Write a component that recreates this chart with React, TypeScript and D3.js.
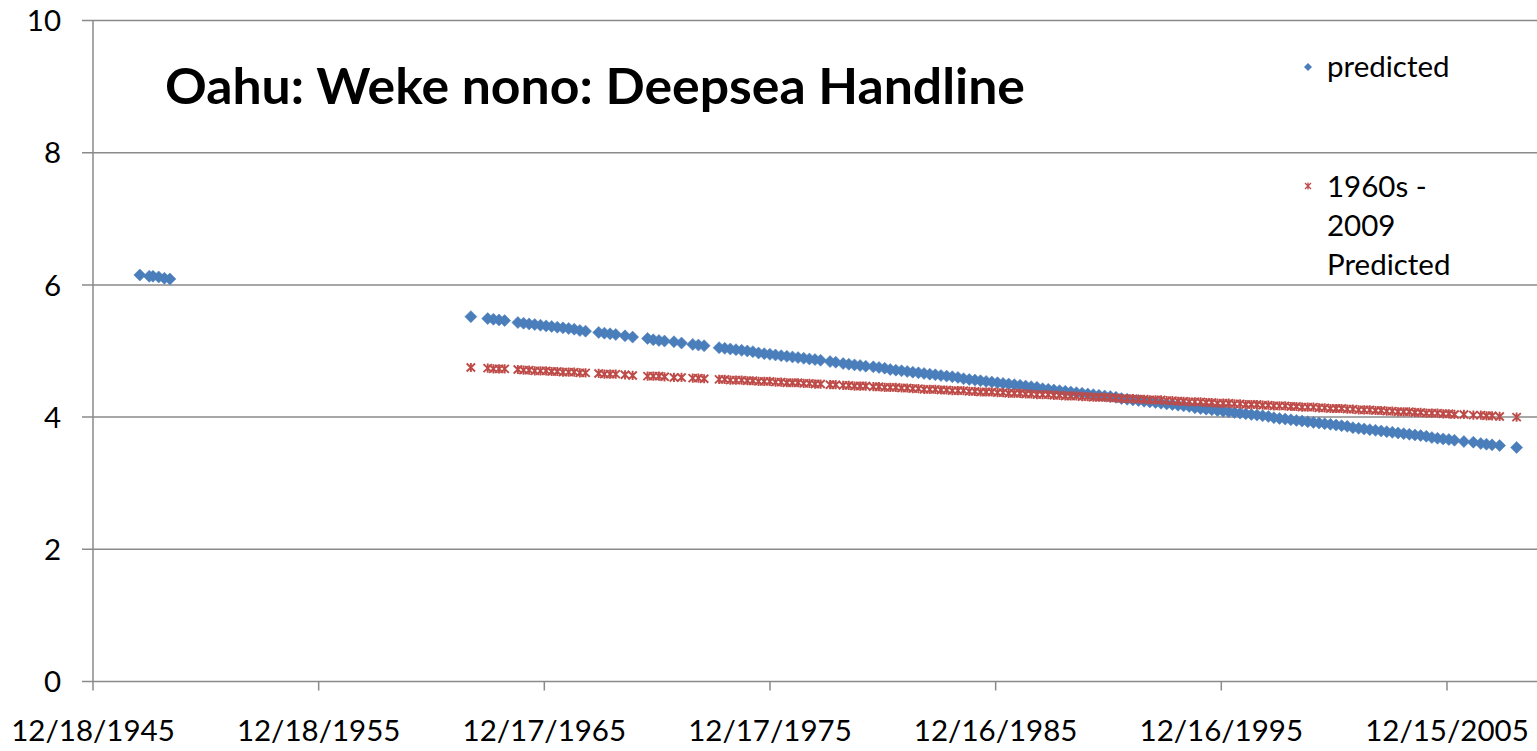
import React from "react";
import * as d3 from "d3";

const TITLE = "Oahu: Weke nono: Deepsea Handline";
const X_TICK_LABELS = ["12/18/1945", "12/18/1955", "12/17/1965", "12/17/1975", "12/16/1985", "12/16/1995", "12/15/2005"];
const X_AXIS_START = "12/18/1945";
const X_AXIS_END = "12/11/2009";
const Y_TICKS = [0, 2, 4, 6, 8, 10];
const SERIES_NAMES = ["predicted", "1960s -\n2009\nPredicted"];

const DATES = [
  "1948-01", "1948-06", "1948-08", "1948-11", "1949-02", "1949-05",
  "1962-09", "1963-06", "1963-09", "1963-12", "1964-03",
  "1964-10", "1965-01", "1965-04", "1965-07", "1965-10", "1966-01", "1966-04", "1966-07", "1966-10", "1967-01", "1967-04", "1967-07", "1967-10",
  "1968-05", "1968-08", "1968-11", "1969-02", "1969-07", "1969-11", "1970-07", "1970-10", "1971-01", "1971-04",
  "1971-09", "1972-01", "1972-07", "1972-10", "1973-01", "1973-09", "1973-12", "1974-03", "1974-06", "1974-09", "1974-12", "1975-03",
  "1975-06", "1975-09", "1975-12", "1976-03", "1976-06", "1976-09", "1976-12", "1977-03", "1977-06", "1977-09", "1977-12", "1978-03",
  "1978-08", "1978-11", "1979-03", "1979-06", "1979-09", "1979-12", "1980-03", "1980-07", "1980-10", "1981-01", "1981-04",
  "1981-07", "1981-10", "1982-01", "1982-04", "1982-07", "1982-10", "1983-01", "1983-04",
  "1983-07", "1983-10", "1984-01", "1984-04", "1984-07", "1984-10", "1985-01", "1985-04", "1985-07", "1985-10", "1986-01", "1986-04",
  "1986-07", "1986-10", "1987-01", "1987-04", "1987-07", "1987-10", "1988-01", "1988-04", "1988-07", "1988-10", "1989-01", "1989-04", "1989-07", "1989-10", "1990-01", "1990-04",
  "1990-07", "1990-10", "1991-01", "1991-04", "1991-07", "1991-10", "1992-01", "1992-04", "1992-07", "1992-10", "1993-01", "1993-04", "1993-07", "1993-10", "1994-01", "1994-04",
  "1994-07", "1994-10", "1995-01", "1995-04", "1995-07", "1995-10", "1996-01", "1996-04", "1996-07", "1996-10", "1997-01", "1997-04", "1997-07", "1997-10", "1998-01", "1998-04",
  "1998-07", "1998-10", "1999-01", "1999-04", "1999-07", "1999-10", "2000-01", "2000-04", "2000-07", "2000-10", "2001-01", "2001-04", "2001-07", "2001-10", "2002-01", "2002-04",
  "2002-07", "2002-10", "2003-01", "2003-04", "2003-07", "2003-10", "2004-01", "2004-04", "2004-07", "2004-10", "2005-01", "2005-04", "2005-07", "2005-10", "2006-01", "2006-04",
  "2006-09", "2007-02", "2007-06", "2007-09", "2007-12", "2008-04", "2009-01",
];

const PREDICTED = [
  6.15, 6.13, 6.13, 6.12, 6.10, 6.09,
  5.52, 5.49, 5.48, 5.47, 5.46,
  5.43, 5.42, 5.41, 5.40, 5.39, 5.38, 5.37, 5.36, 5.35, 5.34, 5.33, 5.31, 5.30,
  5.28, 5.27, 5.26, 5.25, 5.23, 5.21, 5.19, 5.17, 5.16, 5.15,
  5.14, 5.12, 5.10, 5.09, 5.08, 5.05, 5.04, 5.03, 5.02, 5.01, 5.00, 4.99,
  4.97, 4.96, 4.95, 4.94, 4.93, 4.92, 4.91, 4.90, 4.89, 4.88, 4.87, 4.86,
  4.84, 4.83, 4.81, 4.80, 4.79, 4.78, 4.77, 4.76, 4.75, 4.74, 4.72,
  4.71, 4.70, 4.69, 4.68, 4.67, 4.66, 4.65, 4.64,
  4.63, 4.62, 4.61, 4.60, 4.58, 4.57, 4.56, 4.55, 4.54, 4.53, 4.52, 4.51,
  4.50, 4.49, 4.48, 4.47, 4.46, 4.45, 4.43, 4.42, 4.41, 4.40, 4.39, 4.38, 4.37, 4.36, 4.35, 4.34,
  4.33, 4.32, 4.31, 4.30, 4.28, 4.27, 4.26, 4.25, 4.24, 4.23, 4.22, 4.21, 4.20, 4.19, 4.18, 4.17,
  4.16, 4.14, 4.13, 4.12, 4.11, 4.10, 4.09, 4.08, 4.07, 4.06, 4.05, 4.04, 4.03, 4.02, 4.01, 3.99,
  3.98, 3.97, 3.96, 3.95, 3.94, 3.93, 3.92, 3.91, 3.90, 3.89, 3.88, 3.87, 3.86, 3.84, 3.83, 3.82,
  3.81, 3.80, 3.79, 3.78, 3.77, 3.76, 3.75, 3.74, 3.73, 3.72, 3.71, 3.69, 3.68, 3.67, 3.66, 3.65,
  3.63, 3.62, 3.60, 3.59, 3.58, 3.57, 3.54,
];

const PREDICTED_1960S: (number | null)[] = [
  null, null, null, null, null, null,
  4.75, 4.74, 4.73, 4.73, 4.73,
  4.72, 4.71, 4.71, 4.70, 4.70, 4.70, 4.69, 4.69, 4.68, 4.68, 4.68, 4.67, 4.67,
  4.66, 4.65, 4.65, 4.65, 4.64, 4.63, 4.62, 4.62, 4.62, 4.61,
  4.60, 4.60, 4.59, 4.59, 4.58, 4.57, 4.57, 4.56, 4.56, 4.56, 4.55, 4.55,
  4.54, 4.54, 4.54, 4.53, 4.53, 4.52, 4.52, 4.52, 4.51, 4.51, 4.50, 4.50,
  4.49, 4.49, 4.48, 4.48, 4.47, 4.47, 4.47, 4.46, 4.46, 4.45, 4.45,
  4.45, 4.44, 4.44, 4.43, 4.43, 4.42, 4.42, 4.42,
  4.41, 4.41, 4.40, 4.40, 4.40, 4.39, 4.39, 4.38, 4.38, 4.38, 4.37, 4.37,
  4.36, 4.36, 4.36, 4.35, 4.35, 4.34, 4.34, 4.34, 4.33, 4.33, 4.32, 4.32, 4.32, 4.31, 4.31, 4.30,
  4.30, 4.30, 4.29, 4.29, 4.28, 4.28, 4.28, 4.27, 4.27, 4.26, 4.26, 4.26, 4.25, 4.25, 4.24, 4.24,
  4.23, 4.23, 4.23, 4.22, 4.22, 4.21, 4.21, 4.21, 4.20, 4.20, 4.19, 4.19, 4.19, 4.18, 4.18, 4.17,
  4.17, 4.17, 4.16, 4.16, 4.15, 4.15, 4.15, 4.14, 4.14, 4.13, 4.13, 4.13, 4.12, 4.12, 4.11, 4.11,
  4.11, 4.10, 4.10, 4.09, 4.09, 4.08, 4.08, 4.08, 4.07, 4.07, 4.06, 4.06, 4.06, 4.05, 4.05, 4.04,
  4.04, 4.03, 4.03, 4.02, 4.02, 4.01, 4.00,
];

const BLUE = "#4A7EBB";
const RED = "#BE4B48";
const GRID = "#8A8A8A";
const FONT = "Lato, 'Open Sans', sans-serif";

function diamondPath(r: number) {
  return `M0,${-r}L${r},0L0,${r}L${-r},0Z`;
}
function starPath(w: number, h: number) {
  return `M${-w},${-h}L${w},${h}M${-w},${h}L${w},${-h}M0,${-h - 0.6}L0,${h + 0.6}`;
}

export default function App() {
  const W = 1537;
  const H = 751;
  const left = 93;
  const right = 1537;
  const top = 20.5;
  const bottom = 681.5;

  const parseTick = d3.timeParse("%m/%d/%Y");
  const parseMonth = d3.timeParse("%Y-%m");
  const x = d3
    .scaleTime()
    .domain([parseTick(X_AXIS_START) as Date, parseTick(X_AXIS_END) as Date])
    .range([left, right]);
  const y = d3.scaleLinear().domain([0, 10]).range([bottom, top]);

  const rows = DATES.map((d, i) => ({
    date: d3.timeDay.offset(parseMonth(d) as Date, 14),
    a: PREDICTED[i],
    b: PREDICTED_1960S[i],
  }));

  const legendLines = SERIES_NAMES[1].split("\n");

  return (
    <svg
      width={W}
      height={H}
      style={{ position: "absolute", left: 0, top: 0, background: "#fff" }}
      fontFamily={FONT}
    >
      <rect x={0} y={0} width={W} height={H} fill="#fff" />
      {Y_TICKS.filter((t) => t > 0).map((t) => (
        <line key={"g" + t} x1={left - 11} x2={right} y1={y(t)} y2={y(t)} stroke={GRID} strokeWidth={1.5} />
      ))}
      <line x1={left} x2={left} y1={top} y2={bottom} stroke={GRID} strokeWidth={1.5} />
      <line x1={left - 11} x2={right} y1={y(0)} y2={y(0)} stroke={GRID} strokeWidth={1.6} />
      {Y_TICKS.map((t) => (
        <text key={"yl" + t} x={61} y={y(t)} dy="0.36em" textAnchor="end" fontSize={29.5} fill="#000">
          {t}
        </text>
      ))}
      {X_TICK_LABELS.map((s) => {
        const px = x(parseTick(s) as Date);
        return (
          <g key={s}>
            <line x1={px} x2={px} y1={bottom} y2={bottom + 9} stroke={GRID} strokeWidth={1.5} />
            <text x={px} y={741} textAnchor="middle" fontSize={29.5} fill="#000">
              {s}
            </text>
          </g>
        );
      })}
      <text x={165} y={104} fontSize={49} fontWeight={700} fill="#000" textLength={860} lengthAdjust="spacingAndGlyphs">
        {TITLE}
      </text>
      <g>
        {rows
          .filter((r) => r.a != null)
          .map((r, i) => (
            <path
              key={"a" + i}
              d={diamondPath(6)}
              transform={`translate(${x(r.date)},${y(r.a as number)})`}
              fill={BLUE}
              stroke="#4F81BD"
              strokeWidth={0.6}
            />
          ))}
      </g>
      <g>
        {rows
          .filter((r) => r.b != null)
          .map((r, i) => (
            <path
              key={"b" + i}
              d={starPath(4.2, 4)}
              transform={`translate(${x(r.date)},${y(r.b as number)})`}
              fill="none"
              stroke={RED}
              strokeWidth={1.9}
            />
          ))}
      </g>
      <path d={diamondPath(4)} transform="translate(1308,67)" fill={BLUE} />
      <text x={1327} y={77} fontSize={29.5} fill="#000">
        {SERIES_NAMES[0]}
      </text>
      <path d={starPath(3, 3)} transform="translate(1308,186)" fill="none" stroke={RED} strokeWidth={1.3} />
      {legendLines.map((l, i) => (
        <text key={"ll" + i} x={1327} y={197 + i * 39} fontSize={29.5} fill="#000">
          {l}
        </text>
      ))}
    </svg>
  );
}
